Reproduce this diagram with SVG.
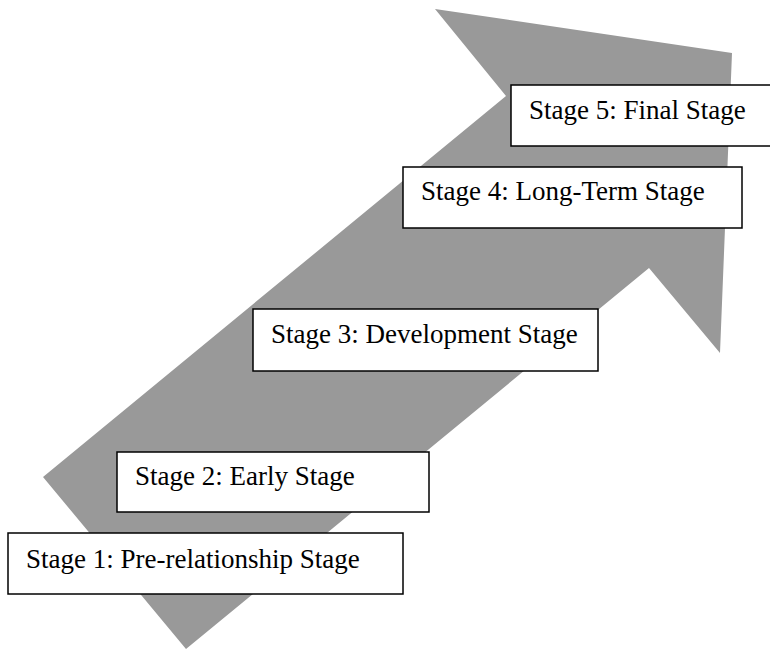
<svg xmlns="http://www.w3.org/2000/svg" width="770" height="650" viewBox="0 0 770 650">
  <style>
    .stage rect { fill: #ffffff; stroke: #000000; stroke-width: 1.5; }
    .stage text { font-family: "Liberation Serif", "Times New Roman", serif; font-size: 27px; fill: #000000; }
  </style>
  <rect x="0" y="0" width="770" height="650" fill="#ffffff"/>

  <!-- big rising arrow behind the stages -->
  <g id="connectors">
    <polygon points="43,477 506,96 435,9 732,53 720,353 649,268 186,649" fill="#999999"/>
  </g>

  <g id="stage5" class="stage">
    <rect x="511" y="85" width="262" height="61"/>
    <text x="529" y="119">Stage 5: Final Stage</text>
  </g>
  <g id="stage4" class="stage">
    <rect x="403" y="167" width="339" height="61"/>
    <text x="421" y="200">Stage 4: Long-Term Stage</text>
  </g>
  <g id="stage3" class="stage">
    <rect x="253" y="309" width="345" height="62"/>
    <text x="271" y="343">Stage 3: Development Stage</text>
  </g>
  <g id="stage2" class="stage">
    <rect x="117" y="452" width="312" height="60"/>
    <text x="135" y="485">Stage 2: Early Stage</text>
  </g>
  <g id="stage1" class="stage">
    <rect x="8" y="533" width="395" height="61"/>
    <text x="26" y="568">Stage 1: Pre-relationship Stage</text>
  </g>
</svg>
